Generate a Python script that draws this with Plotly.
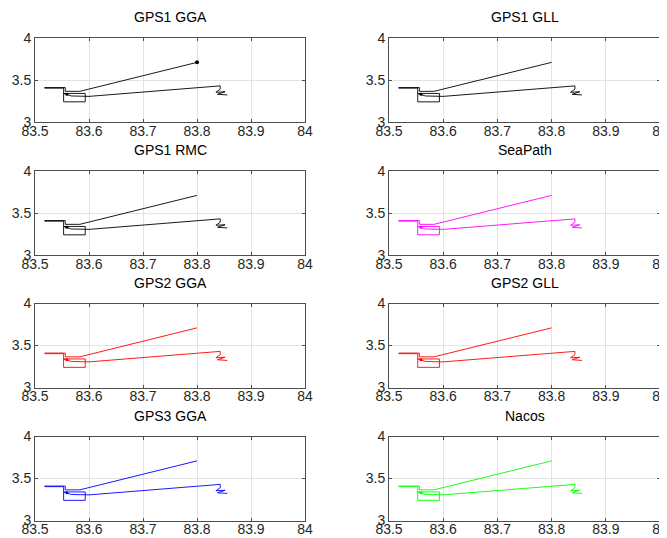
import plotly.graph_objects as go

# Data
titles = ["GPS1 GGA", "GPS1 GLL", "GPS1 RMC", "SeaPath",
          "GPS2 GGA", "GPS2 GLL", "GPS3 GGA", "Nacos"]
colors = ["#000000", "#000000", "#000000", "#ff00ff",
          "#ff0000", "#ff0000", "#0000ff", "#00ff00"]

track_lon = [83.800, 83.583, 83.556, 83.556, 83.518, 83.518, 83.553, 83.553,
             83.593, 83.593, 83.553, 83.559, 83.567, 83.600, 83.700, 83.800,
             83.843, 83.843, 83.835, 83.852, 83.838, 83.856]
track_lat = [3.710, 3.365, 3.365, 3.410, 3.410, 3.403, 3.403, 3.240,
             3.240, 3.340, 3.340, 3.330, 3.310, 3.305, 3.360, 3.410,
             3.430, 3.390, 3.354, 3.360, 3.330, 3.322]

end_lon = [83.800]
end_lat = [3.710]
start_lon = [83.559]
start_lat = [3.330]

x_ticks = [83.5, 83.6, 83.7, 83.8, 83.9, 84.0]
x_ticktext = ["83.5", "83.6", "83.7", "83.8", "83.9", "84"]
y_ticks = [3.0, 3.5, 4.0]
y_ticktext = ["3", "3.5", "4"]

# page body has an 8px margin; figure is positioned to compensate
OFF = 8
W, H = 667, 538 - OFF
col_px = [(35 - OFF, 305 - OFF), (389 - OFF, 660 - OFF)]
row_top = [38 - OFF, 171 - OFF, 303.5 - OFF, 436.5 - OFF]
plot_h = 84

FONT = "Liberation Sans, Arial, sans-serif"

fig = go.Figure()
annotations = []
for i, (t, c) in enumerate(zip(titles, colors)):
    r, col = divmod(i, 2)
    n = i + 1
    xa = "x" if n == 1 else f"x{n}"
    ya = "y" if n == 1 else f"y{n}"
    fig.add_trace(go.Scatter(x=track_lon, y=track_lat, mode="lines",
                             line=dict(color=c, width=0.9), xaxis=xa, yaxis=ya,
                             showlegend=False, hoverinfo="skip"))
    fig.add_trace(go.Scatter(x=start_lon, y=start_lat, mode="markers",
                             marker=dict(color=c, size=3), xaxis=xa, yaxis=ya,
                             showlegend=False, hoverinfo="skip"))
    if i == 0:
        fig.add_trace(go.Scatter(x=end_lon, y=end_lat, mode="markers",
                                 marker=dict(color=c, size=4), xaxis=xa, yaxis=ya,
                                 showlegend=False, hoverinfo="skip"))
    x0, x1 = col_px[col]
    top = row_top[r]
    bot = top + plot_h
    xdom = [x0 / W, x1 / W]
    ydom = [1 - bot / H, 1 - top / H]
    axis_common = dict(showline=True, linecolor="#4d4d4d", linewidth=1, mirror="ticks",
                       ticks="inside", ticklen=3, tickcolor="#4d4d4d",
                       showgrid=True, gridcolor="#e3e3e3", gridwidth=1,
                       zeroline=False, automargin=False,
                       tickfont=dict(family=FONT, size=14, color="#262626"))
    fig.layout[f"xaxis{'' if n == 1 else n}"] = dict(
        domain=xdom, range=[83.5, 84.0], anchor=ya, ticklabelstandoff=-4,
        tickvals=x_ticks, ticktext=x_ticktext, **axis_common)
    fig.layout[f"yaxis{'' if n == 1 else n}"] = dict(
        domain=ydom, range=[3.0, 4.0], anchor=xa, ticklabelstandoff=0,
        tickvals=y_ticks, ticktext=y_ticktext, **axis_common)
    annotations.append(dict(text=t, xref="paper", yref="paper",
                            x=(xdom[0] + xdom[1]) / 2, y=ydom[1],
                            yshift=11, xanchor="center", yanchor="bottom",
                            showarrow=False,
                            font=dict(family=FONT, size=14, color="#000000")))

fig.update_layout(width=W, height=H, margin=dict(l=0, r=0, t=0, b=0),
                  paper_bgcolor="white", plot_bgcolor="white",
                  annotations=annotations)

fig.write_html("out.html")
